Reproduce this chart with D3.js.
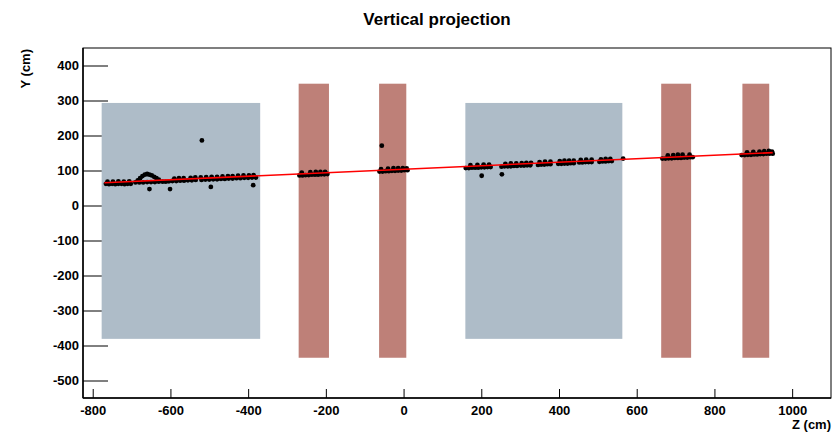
<!DOCTYPE html>
<html><head><meta charset="utf-8">
<script src="https://cdn.jsdelivr.net/npm/d3@7"></script>
<style>body{margin:0;background:#fff}svg{display:block}text{font-family:"Liberation Sans",Arial,sans-serif;font-weight:bold}</style>
</head><body><svg id="c" width="839" height="435"></svg>
<script>
// ---- data ----
const title = "Vertical projection";
const xLabel = "Z (cm)";
const yLabel = "Y (cm)";
const xMajorTicks = [-800,-600,-400,-200,0,200,400,600,800,1000];
const yMajorTicks = [400,300,200,100,0,-100,-200,-300,-400,-500];
// detector regions [z0, z1, y0, y1]
const greyBoxes = [[-777,-369,-381,293],[159,563,-381,293]];
const brownBoxes = [[-270,-192,-435,348],[-63,7,-435,348],[663,740,-435,348],[872,941,-435,348]];
// hits (z, y)
const hitZ = [
 -766,-758,-750,-742,-734,-726,-718,-710,-702, -762,-748,-734,-720,-706,
 -690,-684,-678,-672,-666,-660,-654,-648,-642,-636,-630,
 -680,-670,-660,-650,-640,-630,-620,-612,-604,
 -654,-601,
 -595,-585,-575,-565,-555,-545,-535,-520,-510,-500,-490,-480,-470,-460,-450,-440,-430,-420,-410,-400,-390,-380,
 -590,-578,-566,-548,-536,-522,-508,-494,-480,-466,-452,-440,-426,-412,-398,-386,
 -519,-496,-387,
 -268,-260,-252,-244,-236,-228,-220,-212,-204,-196, -262,-240,-226,-214,-202,
 -62,-54,-46,-38,-30,-22,-14,-6,2,10, -58,-40,-26,-14,-2,8, -56,
 160,168,176,184,192,200,208,216,224, 172,190,206,220,
 252,260,268,276,284,292, 262,276,290,
 302,310,318,326, 304,316,328,
 346,354,362,370,378, 350,364,378,
 398,406,414,422,430,438, 402,414,426,438,
 452,460,468,476,484, 456,470,484,
 504,512,520,528,536, 508,520,532,
 565, 201,253,
 666,674,682,690,698,706,714,722,730,738,744, 680,694,706,718,736,
 870,878,886,894,902,910,918,926,934,942,950, 884,900,916,928,940,948
];
const hitY = [
 62,61,62,61,62,62,61,62,62, 68,68,69,68,69,
 66,72,78,84,88,90,88,86,82,78,74,
 66,66,67,67,67,68,68,68,69,
 47,47,
 70,70,71,71,72,72,73,73,74,74,75,75,76,76,77,77,78,78,79,79,80,80,
 77,78,78,79,80,80,81,82,82,83,84,84,85,86,86,87,
 186,53,58,
 86,86,87,87,88,88,88,89,89,90, 94,95,96,96,96,
 97,97,98,98,99,99,100,100,101,101, 104,105,107,107,107,106, 171,
 107,107,108,108,108,109,109,110,110, 115,116,117,117,
 111,112,112,112,113,113, 119,120,120,
 114,114,115,115, 121,122,122,
 116,117,117,118,118, 124,125,125,
 119,119,120,120,121,121, 127,128,128,128,
 123,123,124,124,124, 130,131,131,
 125,126,126,127,127, 132,133,133,
 134, 85,89,
 134,134,135,135,136,136,136,137,137,138,138, 143,144,145,145,145,
 144,144,145,145,146,146,147,147,148,148,148, 152,153,154,155,156,154
];
// fitted track end points
const fitZ = [-770, 950];
const fitY = [65, 151];

// ---- drawing ----
const svg = d3.select("#c");
const x = d3.scaleLinear().domain([-825,1100]).range([83,831]);
const y = d3.scaleLinear().domain([-550,450]).range([398,48]);

const yMinor = d3.range(-540, 450, 20);
const xMinor = d3.range(-800, 1100, 50);
const fmt = d => String(d);

const gx = svg.append("g").attr("transform","translate(0,398)");
gx.call(d3.axisBottom(x).tickValues(xMinor).tickSize(-4).tickFormat(""));
gx.call(d3.axisBottom(x).tickValues(xMajorTicks).tickSize(-9).tickPadding(8).tickFormat(fmt));
const gy = svg.append("g").attr("transform","translate(83,0)");
gy.call(d3.axisLeft(y).tickValues(yMinor).tickSize(-13).tickFormat(""));
gy.call(d3.axisLeft(y).tickValues(yMajorTicks).tickSize(-25).tickPadding(4).tickFormat(fmt));
svg.selectAll(".domain").remove();
svg.selectAll(".tick line").attr("stroke","#000").attr("stroke-width",1);
svg.selectAll(".tick text").attr("font-size",13).attr("fill","#000")
  .style("font-family","'Liberation Sans',Arial,sans-serif").style("font-weight","bold");

svg.append("g").selectAll("rect").data(greyBoxes).join("rect")
  .attr("x",d=>x(d[0])).attr("width",d=>x(d[1])-x(d[0]))
  .attr("y",d=>y(d[3])).attr("height",d=>y(d[2])-y(d[3]))
  .attr("fill","#aebcc8");
svg.append("g").selectAll("rect").data(brownBoxes).join("rect")
  .attr("x",d=>x(d[0])).attr("width",d=>x(d[1])-x(d[0]))
  .attr("y",d=>y(d[3])).attr("height",d=>y(d[2])-y(d[3]))
  .attr("fill","#be8078");

svg.append("g").selectAll("circle").data(hitZ.map((z,i)=>[z,hitY[i]])).join("circle")
  .attr("cx",d=>x(d[0])).attr("cy",d=>y(d[1])).attr("r",2.4).attr("fill","#000");

svg.append("line").attr("x1",x(fitZ[0])).attr("y1",y(fitY[0]))
  .attr("x2",x(fitZ[1])).attr("y2",y(fitY[1]))
  .attr("stroke","#ff0000").attr("stroke-width",1.6);

svg.append("rect").attr("x",83).attr("y",48).attr("width",831-83).attr("height",398-48)
  .attr("fill","none").attr("stroke","#000").attr("stroke-width",1);
svg.append("line").attr("x1",83).attr("x2",831).attr("y1",398).attr("y2",398).attr("stroke","#000").attr("stroke-width",1.5);
svg.append("line").attr("x1",83).attr("x2",83).attr("y1",48).attr("y2",398).attr("stroke","#000").attr("stroke-width",1.5);

svg.append("text").attr("x",437).attr("y",25).attr("text-anchor","middle").attr("font-size",17).text(title);
svg.append("text").attr("x",831).attr("y",429).attr("text-anchor","end").attr("font-size",13).text(xLabel);
svg.append("text").attr("transform","translate(30,49) rotate(-90)").attr("text-anchor","end").attr("font-size",13).text(yLabel);
</script></body></html>
